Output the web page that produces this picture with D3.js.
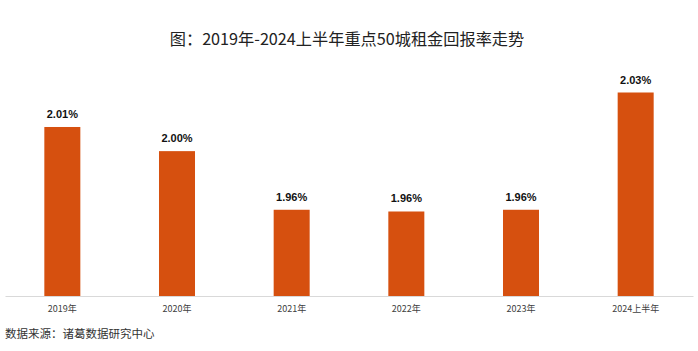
<!DOCTYPE html>
<html>
<head>
<meta charset="utf-8">
<script src="https://cdn.jsdelivr.net/npm/d3@7"></script>
<style>
  body { margin: 0; background: #fff; }
  svg { display: block; }
</style>
</head>
<body>
<svg id="chart" width="698" height="351"></svg>
<script>
// categories and values
var categories = ['2019年', '2020年', '2021年', '2022年', '2023年', '2024上半年'];
var returnRates = [2.01, 1.996, 1.962, 1.961, 1.962, 2.03];
var titleText = '图：2019年-2024上半年重点50城租金回报率走势';
var sourceText = '数据来源：诸葛数据研究中心';

var svg = d3.select('svg#chart');
var barColor = '#d6500f';
var cjk = '"Noto Sans CJK SC", "Noto Sans", sans-serif';

var chart_vars = {
  left: 5,
  right: 693,
  baseline: 296,
  top: 92.5
};

var xScale = d3.scaleBand()
  .domain(categories)
  .range([chart_vars.left, chart_vars.right])
  .paddingInner(0.686)
  .paddingOuter(0.343);

var yScale = d3.scaleLinear()
  .domain([1.912, 2.03])
  .range([chart_vars.baseline, chart_vars.top]);

var data = categories.map(function(c, i) { return { cat: c, value: returnRates[i] }; });

// title
svg.append('text')
  .attr('x', 347)
  .attr('y', 45)
  .attr('text-anchor', 'middle')
  .style('font-family', cjk)
  .style('font-size', '16.2px')
  .style('fill', '#222')
  .text(titleText);

// bars
svg.selectAll('rect.bar')
  .data(data)
  .enter()
  .append('rect')
  .attr('class', 'bar')
  .attr('x', function(d) { return xScale(d.cat); })
  .attr('width', xScale.bandwidth())
  .attr('y', function(d) { return yScale(d.value); })
  .attr('height', function(d) { return chart_vars.baseline - yScale(d.value); })
  .style('fill', barColor);

// value labels
svg.selectAll('text.val')
  .data(data)
  .enter()
  .append('text')
  .attr('class', 'val')
  .attr('x', function(d) { return xScale(d.cat) + xScale.bandwidth() / 2; })
  .attr('y', function(d) { return yScale(d.value) - 9; })
  .attr('text-anchor', 'middle')
  .style('font-family', '"Liberation Sans", Arial, sans-serif')
  .style('font-weight', 'bold')
  .style('font-size', '11px')
  .style('fill', '#111')
  .text(function(d) { return d.value.toFixed(2) + '%'; });

// x axis
var axis_bottom = d3.axisBottom(xScale).tickSize(0).tickPadding(10);
var gx = svg.append('g')
  .attr('class', 'axis axis--x')
  .attr('transform', 'translate(0,' + chart_vars.baseline + ')')
  .call(axis_bottom);

gx.select('path.domain').style('stroke', '#d9d9d9').style('stroke-width', 1);
gx.selectAll('text')
  .style('font-family', cjk)
  .style('font-size', '9px')
  .style('fill', '#404040');

// source
svg.append('text')
  .attr('x', 5)
  .attr('y', 338)
  .style('font-family', cjk)
  .style('font-size', '11.5px')
  .style('fill', '#333')
  .text(sourceText);
</script>
</body>
</html>
